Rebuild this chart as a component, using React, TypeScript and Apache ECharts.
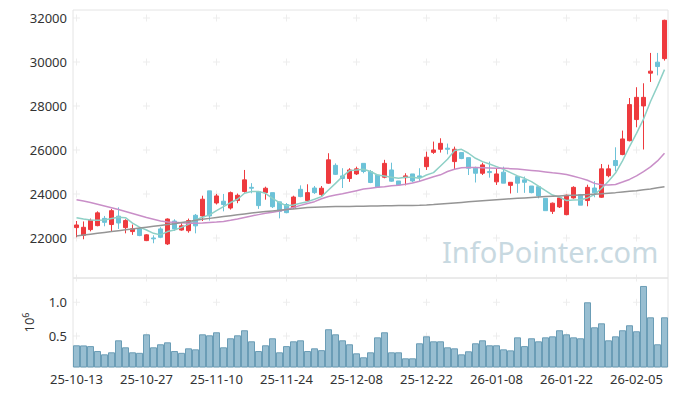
import React, { useEffect, useRef } from "react";
import * as echarts from "echarts";

const dates = [
  "25-10-13","25-10-14","25-10-15","25-10-16","25-10-17","25-10-20","25-10-21","25-10-22","25-10-23","25-10-24",
  "25-10-27","25-10-28","25-10-29","25-10-30","25-10-31","25-11-03","25-11-04","25-11-05","25-11-06","25-11-07",
  "25-11-10","25-11-11","25-11-12","25-11-13","25-11-14","25-11-17","25-11-18","25-11-19","25-11-20","25-11-21",
  "25-11-24","25-11-25","25-11-26","25-11-27","25-11-28","25-12-01","25-12-02","25-12-03","25-12-04","25-12-05",
  "25-12-08","25-12-09","25-12-10","25-12-11","25-12-12","25-12-15","25-12-16","25-12-17","25-12-18","25-12-19",
  "25-12-22","25-12-23","25-12-24","25-12-26","25-12-29","25-12-30","26-01-02","26-01-05","26-01-06","26-01-07",
  "26-01-08","26-01-09","26-01-12","26-01-13","26-01-14","26-01-15","26-01-16","26-01-19","26-01-20","26-01-21",
  "26-01-22","26-01-23","26-01-26","26-01-27","26-01-28","26-01-29","26-01-30","26-02-02","26-02-03","26-02-04",
  "26-02-05","26-02-06","26-02-09","26-02-10","26-02-11",
];

// [open, close, low, high]
const candles = [
  [22470,22590,22030,22770],[22120,22485,21940,22750],[22380,22800,22300,22880],[22560,23140,22530,23210],[22890,22710,22530,23000],
  [22610,23240,22300,23320],[22990,22680,22410,23390],[22470,22790,22210,22850],[22290,22420,22140,22610],[22420,22110,22080,22490],
  [21880,22140,21860,22170],[22000,21960,21760,22120],[22410,22030,21990,22490],[21730,22860,21680,22890],[22770,22410,22320,22850],
  [22360,22550,22330,22670],[22330,22790,22240,22880],[23030,22550,22210,23090],[23000,23760,22770,23920],[24140,23000,22790,24140],
  [23590,23910,23520,24000],[23670,23520,23210,24000],[23360,24060,23290,24110],[23700,23940,23580,24020],[24110,24640,24060,25090],
  [24300,24260,24030,24490],[24110,23470,23320,24110],[24060,24260,23740,24330],[24060,23420,23360,24060],[23640,23210,22890,23640],
  [23520,23150,23120,23590],[23380,23860,23320,23920],[24210,23880,23850,24390],[23700,24060,23650,24440],[24270,24060,24000,24360],
  [23970,24260,23890,24360],[24490,25550,24460,25850],[25300,24890,24860,25390],[24820,24700,24270,25170],[24700,25090,24550,25170],
  [24910,25140,24860,25240],[25390,25020,24940,25390],[25020,24520,24490,25090],[24860,24300,24300,24860],[24760,25390,24710,25550],
  [25090,24580,24550,25420],[24590,24410,24390,24590],[24740,24820,24390,24940],[24910,24590,24530,24910],[24820,24760,24590,25170],
  [25240,25670,25090,25920],[25890,26000,25820,26380],[26030,26300,25880,26530],[26080,26030,25800,26290],[25470,26030,25090,26150],
  [25880,25610,25580,25880],[25650,25170,24860,25650],[25170,24940,24520,25240],[24940,25320,24860,25420],[25020,24970,24740,25470],
  [24550,24910,24410,25170],[24990,24490,24490,25240],[24390,24530,24020,24530],[24790,24490,24050,24790],[24640,24530,24050,24790],
  [24360,24060,24030,24360],[24330,23910,23800,24330],[23800,23240,23240,23800],[23210,23580,23090,23610],[23410,23820,23360,23850],
  [23060,23940,23030,23970],[23820,24300,23790,24350],[23970,23490,23490,24000],[23700,24300,23440,24420],[24270,24050,23850,24580],
  [23850,25140,23820,25360],[24830,25140,24760,25330],[25520,25290,25030,26120],[25790,26500,25760,26880],[26420,28060,26390,28360],
  [27380,28390,27030,28850],[28000,28390,26020,29030],[29490,29580,29090,30410],[29990,29790,29390,30410],[30150,31890,30060,31920],
];

const volumes = [
  362000,360000,350000,277000,228000,258000,436000,332000,258000,250000,
  525000,332000,377000,406000,277000,250000,317000,302000,525000,510000,
  555000,332000,466000,510000,585000,421000,277000,362000,466000,258000,
  350000,421000,436000,277000,317000,290000,600000,525000,436000,377000,
  243000,184000,258000,480000,555000,258000,258000,169000,169000,392000,
  495000,421000,421000,332000,317000,228000,273000,392000,436000,362000,
  362000,302000,287000,480000,350000,466000,421000,480000,495000,585000,
  525000,480000,466000,1000000,629000,688000,436000,495000,585000,659000,
  570000,1242000,777000,377000,777000,
];

const ma5 = [
  22920,22860,22820,22800,22820,22880,22940,22920,22670,22490,
  22360,22210,22140,22290,22360,22480,22620,22820,22940,23050,
  23240,23420,23610,23760,24030,24110,24110,24030,23800,23610,
  23460,23500,23580,23650,23760,23880,24180,24480,24790,25060,
  25090,25120,25020,24860,24820,24760,24710,24760,24760,24710,
  24860,24970,25270,25580,25970,26030,25850,25620,25470,25360,
  25240,25120,24970,24820,24710,24560,24360,24150,23950,23860,
  23700,23720,23740,23820,23970,24250,24580,24950,25500,26150,
  26750,27400,28200,28900,29650,
];

const ma20 = [
  23740,23680,23610,23530,23450,23370,23290,23200,23110,23020,
  22930,22850,22770,22730,22710,22690,22670,22670,22680,22700,
  22720,22750,22800,22860,22930,23000,23060,23120,23170,23230,
  23290,23380,23480,23570,23650,23780,23880,23950,24010,24080,
  24150,24220,24260,24300,24330,24370,24400,24440,24500,24580,
  24680,24780,24870,25020,25120,25190,25200,25200,25190,25180,
  25170,25170,25150,25130,25100,25070,25040,25000,24960,24930,
  24880,24800,24720,24620,24480,24420,24410,24430,24540,24660,
  24820,25010,25230,25500,25850,
];

const ma60 = [
  22090,22130,22170,22210,22250,22290,22330,22370,22410,22450,
  22490,22530,22570,22610,22650,22700,22750,22800,22850,22890,
  22930,22970,23010,23050,23090,23130,23170,23200,23230,23260,
  23290,23320,23350,23380,23400,23410,23420,23425,23430,23435,
  23440,23445,23450,23455,23460,23465,23470,23475,23480,23485,
  23495,23515,23540,23565,23590,23615,23640,23665,23690,23715,
  23740,23760,23780,23800,23820,23840,23860,23880,23895,23910,
  23925,23940,23955,23970,23990,24010,24035,24060,24090,24120,
  24150,24190,24230,24280,24330,
];

const priceTicks = [22000, 24000, 26000, 28000, 30000, 32000];
const volTicks = [500000, 1000000];
const priceMin = 20180;
const priceMax = 32360;
const volMin = 40000;
const volMax = 1360000;

export default function App() {
  const ref = useRef<HTMLDivElement>(null);
  useEffect(() => {
    if (!ref.current) return;
    const chart = echarts.init(ref.current, null, { renderer: "svg" });
    const font = "Noto Sans";
    const labelColor = "#333";
    const tickIdx = dates.map((_, i) => i).filter((i) => i % 10 === 0);
    const crossCols = [...tickIdx, dates.length - 0.5];
    const crossSym = "path://M0,3H7V4H0ZM3,0H4V7H3Z";
    const priceCross = crossCols.flatMap((x) => priceTicks.map((v) => [x, v]));
    const volCross = crossCols.flatMap((x) => [...volTicks, volMax].map((v) => [x, v]));

    chart.setOption({
      animation: false,
      textStyle: { fontFamily: font },
      grid: [
        { left: 73, top: 10, width: 595, height: 268, show: true, borderColor: "#e4e4e4", borderWidth: 1 },
        { left: 73, top: 278, width: 595, height: 89, show: true, borderColor: "#e4e4e4", borderWidth: 1 },
      ],
      xAxis: [
        {
          type: "category", gridIndex: 0, data: dates, boundaryGap: true,
          axisLine: { show: false }, axisTick: { show: false }, axisLabel: { show: false }, splitLine: { show: false },
        },
        {
          type: "category", gridIndex: 1, data: dates, boundaryGap: true,
          axisLine: { show: false }, axisTick: { show: false }, splitLine: { show: false },
          axisLabel: { interval: 9, color: labelColor, fontSize: 13, fontFamily: font, margin: 5 },
        },
      ],
      yAxis: [
        {
          type: "value", gridIndex: 0, min: priceMin, max: priceMax, splitNumber: 5,
          axisLine: { show: false }, axisTick: { show: false }, splitLine: { show: false },
          axisLabel: {
            color: labelColor, fontSize: 13, fontFamily: font, margin: 6,
            formatter: (v: number) => (priceTicks.includes(v) ? String(v) : ""),
          },
        },
        {
          type: "value", gridIndex: 1, min: volMin, max: volMax, splitNumber: 2,
          axisLine: { show: false }, axisTick: { show: false }, splitLine: { show: false },
          axisLabel: {
            color: labelColor, fontSize: 13, fontFamily: font, margin: 6,
            formatter: (v: number) => (volTicks.includes(v) ? (v / 1e6).toFixed(1) : ""),
          },
          name: "{a|10}{b|6}",
          nameLocation: "middle",
          nameRotate: 90,
          nameGap: 36,
          nameTextStyle: {
            rich: {
              a: { fontSize: 13, color: labelColor, fontFamily: font, lineHeight: 16 },
              b: { fontSize: 9, color: labelColor, fontFamily: font, verticalAlign: "top" },
            },
          },
        },
      ],
      graphic: [
        {
          type: "text", left: 442, top: 237, z: 0, silent: true,
          style: { text: "InfoPointer.com", font: '29px "Noto Sans"', fill: "#c8d9e1" },
        },
      ],
      series: [
        {
          type: "scatter", xAxisIndex: 0, yAxisIndex: 0, data: priceCross, symbol: crossSym, symbolSize: 7,
          itemStyle: { color: "#e8e8e8" }, silent: true, z: 1,
        },
        {
          type: "scatter", xAxisIndex: 1, yAxisIndex: 1, data: volCross, symbol: crossSym, symbolSize: 7,
          itemStyle: { color: "#e8e8e8" }, silent: true, z: 1,
        },
        {
          type: "candlestick", xAxisIndex: 0, yAxisIndex: 0, data: candles, barWidth: 5,
          itemStyle: { color: "#ee3a3e", color0: "#6cc2d8", borderColor: "#ee3a3e", borderColor0: "#6cc2d8", borderWidth: 1 },
        },
        {
          type: "line", name: "MA5", xAxisIndex: 0, yAxisIndex: 0, data: ma5, symbol: "none",
          lineStyle: { color: "#8ed0c6", width: 1.5 }, z: 3,
        },
        {
          type: "line", name: "MA20", xAxisIndex: 0, yAxisIndex: 0, data: ma20, symbol: "none",
          lineStyle: { color: "#c98fc8", width: 1.5 }, z: 3,
        },
        {
          type: "line", name: "MA60", xAxisIndex: 0, yAxisIndex: 0, data: ma60, symbol: "none",
          lineStyle: { color: "#959595", width: 1.5 }, z: 3,
        },
        {
          type: "bar", xAxisIndex: 1, yAxisIndex: 1, data: volumes, barCategoryGap: "0%",
          itemStyle: { color: "rgba(126,174,198,0.8)", borderColor: "#6b9db6", borderWidth: 1 },
        },
      ],
    });
    return () => chart.dispose();
  }, []);
  return <div ref={ref} style={{ position: "absolute", left: 0, top: 0, width: 677, height: 396 }} />;
}
